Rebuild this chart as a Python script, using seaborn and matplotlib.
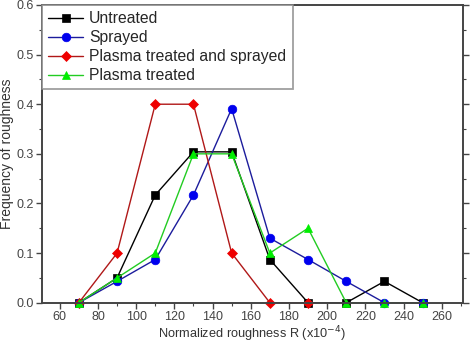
import matplotlib
matplotlib.use("Agg")
import matplotlib.pyplot as plt
import seaborn as sns
import pandas as pd
from matplotlib.ticker import MultipleLocator

x_untreated = [70, 90, 110, 130, 150, 170, 190, 210, 230, 250]
y_untreated = [0.0, 0.05, 0.217, 0.304, 0.304, 0.087, 0.0, 0.0, 0.043, 0.0]
x_sprayed = [70, 90, 110, 130, 150, 170, 190, 210, 230, 250]
y_sprayed = [0.0, 0.043, 0.087, 0.217, 0.391, 0.13, 0.087, 0.043, 0.0, 0.0]
x_pts = [70, 90, 110, 130, 150, 170, 190]
y_pts = [0.0, 0.1, 0.4, 0.4, 0.1, 0.0, 0.0]
x_pt = [70, 90, 110, 130, 150, 170, 190, 210, 230, 250]
y_pt = [0.0, 0.05, 0.1, 0.3, 0.3, 0.1, 0.15, 0.0, 0.0, 0.0]

labels = ["Untreated", "Sprayed", "Plasma treated and sprayed", "Plasma treated"]
line_colors = ["#000000", "#1c1c9c", "#b01818", "#22cc22"]
marker_colors = ["#000000", "#0000ee", "#ee0000", "#00ee00"]
markers = ["s", "o", "D", "^"]
msizes = [5.2, 6.2, 5.2, 6.4]

frames = []
for lab, xs, ys in zip(labels, [x_untreated, x_sprayed, x_pts, x_pt],
                       [y_untreated, y_sprayed, y_pts, y_pt]):
    frames.append(pd.DataFrame({"R": xs, "freq": ys, "series": lab}))
df = pd.concat(frames, ignore_index=True)

sns.set_style("white")
plt.rcParams["font.family"] = ["Liberation Sans", "DejaVu Sans"]

fig = plt.figure(figsize=(4.7, 3.43), dpi=100)
ax = fig.add_axes([0.0894, 0.1175, 0.8951, 0.868])

sns.lineplot(data=df, x="R", y="freq", hue="series", style="series",
             hue_order=labels, style_order=labels,
             palette=dict(zip(labels, line_colors)),
             markers=dict(zip(labels, markers)), dashes=False,
             sort=False, linewidth=1.0, ax=ax, legend=False)

for ln, mc, ms in zip(ax.lines, marker_colors, msizes):
    ln.set_markerfacecolor(mc)
    ln.set_markeredgecolor(mc)
    ln.set_markersize(ms)
    ln.set_markeredgewidth(0.5)
    ln.set_clip_on(False)

ax.set_xlim(50.7, 271)
ax.set_ylim(0, 0.6)
ax.xaxis.set_major_locator(MultipleLocator(20))
ax.xaxis.set_minor_locator(MultipleLocator(10))
ax.yaxis.set_major_locator(MultipleLocator(0.1))
ax.yaxis.set_minor_locator(MultipleLocator(0.05))
ax.set_xticks([60, 80, 100, 120, 140, 160, 180, 200, 220, 240, 260])
ax.yaxis.set_major_formatter(matplotlib.ticker.FormatStrFormatter("%.1f"))

for s in ax.spines.values():
    s.set_visible(True)
    s.set_color("#444444")
    s.set_linewidth(1.4)

ax.tick_params(axis="both", which="major", direction="out", length=4, width=1.0,
               color="#444444", labelsize=9, labelcolor="#444444",
               bottom=True, left=True, right=True, top=False, pad=2)
ax.tick_params(axis="both", which="minor", direction="out", length=2.5, width=0.8,
               color="#444444", bottom=True, left=True, right=True, top=False)

ax.set_xlabel("Normalized roughness R (x10$^{-4}$)", fontsize=9.2, color="#333333")
ax.set_ylabel("Frequency of roughness", fontsize=10, color="#333333")
ax.xaxis.set_label_coords(0.5, -0.072)
ax.yaxis.set_label_coords(-0.066, 0.5)

handles = list(ax.lines[:4])
leg = ax.legend(handles, labels, loc="upper left", bbox_to_anchor=(0.0, 1.0),
                fontsize=11.3, frameon=True, fancybox=False, borderaxespad=0.0,
                handlelength=2.2, handletextpad=0.4, labelspacing=0.25,
                borderpad=0.4)
leg.get_frame().set_edgecolor("#888888")
leg.get_frame().set_linewidth(1.3)

fig.savefig("out.png", dpi=100)
